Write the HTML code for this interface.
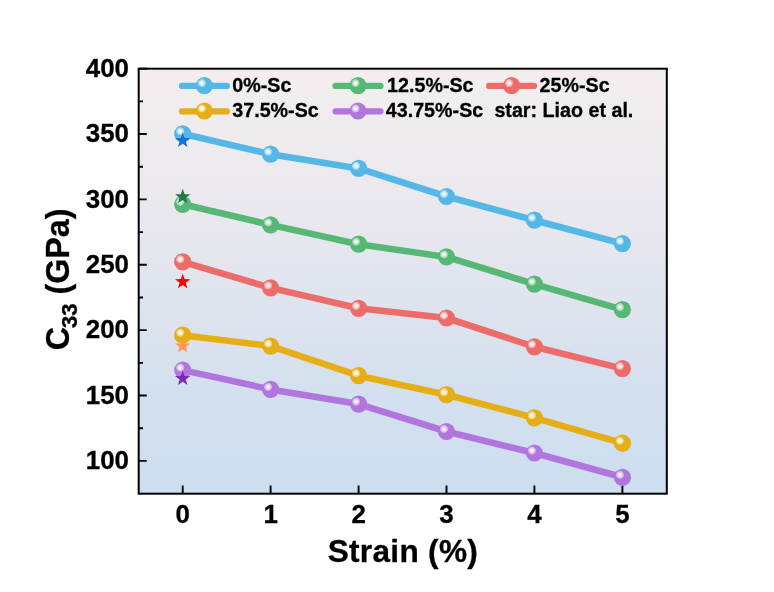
<!DOCTYPE html><html><head><meta charset="utf-8"><title>C33 vs Strain</title><style>html,body{margin:0;padding:0;background:#fff}svg{display:block}text{stroke:#000;stroke-width:0.3px}</style></head><body><svg width="774" height="592" viewBox="0 0 774 592" font-family="'Liberation Sans', Arial, sans-serif" font-weight="bold">
<defs><linearGradient id="bg" x1="0" y1="0" x2="0" y2="1"><stop offset="0" stop-color="#f4eeee"/><stop offset="0.35" stop-color="#e9e8ee"/><stop offset="0.75" stop-color="#d4e0ee"/><stop offset="1" stop-color="#cddef0"/></linearGradient>
<radialGradient id="hl" cx="0.5" cy="0.5" r="0.5"><stop offset="0" stop-color="#fff" stop-opacity="1"/><stop offset="0.25" stop-color="#fff" stop-opacity="0.9"/><stop offset="0.6" stop-color="#fff" stop-opacity="0.6"/><stop offset="0.85" stop-color="#fff" stop-opacity="0.36"/><stop offset="1" stop-color="#fff" stop-opacity="0"/></radialGradient>
</defs>
<rect width="774" height="592" fill="#ffffff"/>
<rect x="138.7" y="68.7" width="528.1" height="425.0" fill="url(#bg)"/>
<path d="M138.7 460.90h8.05M138.7 395.52h8.05M138.7 330.15h8.05M138.7 264.78h8.05M138.7 199.40h8.05M138.7 134.03h8.05M138.7 68.65h8.05M138.7 428.21h4.3M138.7 362.84h4.3M138.7 297.46h4.3M138.7 232.09h4.3M138.7 166.71h4.3M138.7 101.34h4.3M182.70 493.7v-8.3M270.60 493.7v-8.3M358.60 493.7v-8.3M446.50 493.7v-8.3M534.40 493.7v-8.3M622.40 493.7v-8.3" stroke="#000" stroke-width="1.9" fill="none"/>
<rect x="138.7" y="68.7" width="528.1" height="425.0" fill="none" stroke="#000" stroke-width="2"/>
<text x="129.0" y="469.1" font-size="25.9" text-anchor="end">100</text>
<text x="129.0" y="403.7" font-size="25.9" text-anchor="end">150</text>
<text x="129.0" y="338.3" font-size="25.9" text-anchor="end">200</text>
<text x="129.0" y="273.0" font-size="25.9" text-anchor="end">250</text>
<text x="129.0" y="207.6" font-size="25.9" text-anchor="end">300</text>
<text x="129.0" y="142.2" font-size="25.9" text-anchor="end">350</text>
<text x="129.0" y="76.9" font-size="25.9" text-anchor="end">400</text>
<text x="182.7" y="522.6" font-size="25.9" text-anchor="middle">0</text>
<text x="270.6" y="522.6" font-size="25.9" text-anchor="middle">1</text>
<text x="358.6" y="522.6" font-size="25.9" text-anchor="middle">2</text>
<text x="446.5" y="522.6" font-size="25.9" text-anchor="middle">3</text>
<text x="534.4" y="522.6" font-size="25.9" text-anchor="middle">4</text>
<text x="622.4" y="522.6" font-size="25.9" text-anchor="middle">5</text>
<text x="402.9" y="562.0" font-size="31.6" letter-spacing="0.3" text-anchor="middle">Strain (%)</text>
<text transform="translate(69.2 279.4) rotate(-90)" font-size="32.3" text-anchor="middle">C<tspan font-size="22" dy="8" dx="-1">33</tspan><tspan dy="-8"> (GPa)</tspan></text>
<polyline points="182.7,133.8 270.6,154.2 358.6,168.4 446.5,196.5 534.4,220.2 622.4,243.6" fill="none" stroke="#55b7e6" stroke-width="6.6" stroke-linejoin="round" stroke-linecap="round"/>
<circle cx="182.7" cy="133.8" r="8.6" fill="#55b7e6"/><circle cx="180.2" cy="131.3" r="4.4" fill="url(#hl)"/>
<circle cx="270.6" cy="154.2" r="8.6" fill="#55b7e6"/><circle cx="268.1" cy="151.7" r="4.4" fill="url(#hl)"/>
<circle cx="358.6" cy="168.4" r="8.6" fill="#55b7e6"/><circle cx="356.1" cy="165.9" r="4.4" fill="url(#hl)"/>
<circle cx="446.5" cy="196.5" r="8.6" fill="#55b7e6"/><circle cx="444.0" cy="194.0" r="4.4" fill="url(#hl)"/>
<circle cx="534.4" cy="220.2" r="8.6" fill="#55b7e6"/><circle cx="531.9" cy="217.7" r="4.4" fill="url(#hl)"/>
<circle cx="622.4" cy="243.6" r="8.6" fill="#55b7e6"/><circle cx="619.9" cy="241.1" r="4.4" fill="url(#hl)"/>
<polyline points="182.7,204.3 270.6,224.9 358.6,244.2 446.5,256.9 534.4,284.1 622.4,309.6" fill="none" stroke="#56b874" stroke-width="6.6" stroke-linejoin="round" stroke-linecap="round"/>
<circle cx="182.7" cy="204.3" r="8.6" fill="#56b874"/><circle cx="180.2" cy="201.8" r="4.4" fill="url(#hl)"/>
<circle cx="270.6" cy="224.9" r="8.6" fill="#56b874"/><circle cx="268.1" cy="222.4" r="4.4" fill="url(#hl)"/>
<circle cx="358.6" cy="244.2" r="8.6" fill="#56b874"/><circle cx="356.1" cy="241.7" r="4.4" fill="url(#hl)"/>
<circle cx="446.5" cy="256.9" r="8.6" fill="#56b874"/><circle cx="444.0" cy="254.4" r="4.4" fill="url(#hl)"/>
<circle cx="534.4" cy="284.1" r="8.6" fill="#56b874"/><circle cx="531.9" cy="281.6" r="4.4" fill="url(#hl)"/>
<circle cx="622.4" cy="309.6" r="8.6" fill="#56b874"/><circle cx="619.9" cy="307.1" r="4.4" fill="url(#hl)"/>
<polyline points="182.7,261.8 270.6,287.9 358.6,308.3 446.5,318.0 534.4,346.8 622.4,368.6" fill="none" stroke="#ec6c6a" stroke-width="6.6" stroke-linejoin="round" stroke-linecap="round"/>
<circle cx="182.7" cy="261.8" r="8.6" fill="#ec6c6a"/><circle cx="180.2" cy="259.3" r="4.4" fill="url(#hl)"/>
<circle cx="270.6" cy="287.9" r="8.6" fill="#ec6c6a"/><circle cx="268.1" cy="285.4" r="4.4" fill="url(#hl)"/>
<circle cx="358.6" cy="308.3" r="8.6" fill="#ec6c6a"/><circle cx="356.1" cy="305.8" r="4.4" fill="url(#hl)"/>
<circle cx="446.5" cy="318.0" r="8.6" fill="#ec6c6a"/><circle cx="444.0" cy="315.5" r="4.4" fill="url(#hl)"/>
<circle cx="534.4" cy="346.8" r="8.6" fill="#ec6c6a"/><circle cx="531.9" cy="344.3" r="4.4" fill="url(#hl)"/>
<circle cx="622.4" cy="368.6" r="8.6" fill="#ec6c6a"/><circle cx="619.9" cy="366.1" r="4.4" fill="url(#hl)"/>
<polyline points="182.7,335.2 270.6,346.1 358.6,375.7 446.5,394.7 534.4,417.9 622.4,443.2" fill="none" stroke="#e5ae16" stroke-width="6.6" stroke-linejoin="round" stroke-linecap="round"/>
<circle cx="182.7" cy="335.2" r="8.6" fill="#e5ae16"/><circle cx="180.2" cy="332.7" r="4.4" fill="url(#hl)"/>
<circle cx="270.6" cy="346.1" r="8.6" fill="#e5ae16"/><circle cx="268.1" cy="343.6" r="4.4" fill="url(#hl)"/>
<circle cx="358.6" cy="375.7" r="8.6" fill="#e5ae16"/><circle cx="356.1" cy="373.2" r="4.4" fill="url(#hl)"/>
<circle cx="446.5" cy="394.7" r="8.6" fill="#e5ae16"/><circle cx="444.0" cy="392.2" r="4.4" fill="url(#hl)"/>
<circle cx="534.4" cy="417.9" r="8.6" fill="#e5ae16"/><circle cx="531.9" cy="415.4" r="4.4" fill="url(#hl)"/>
<circle cx="622.4" cy="443.2" r="8.6" fill="#e5ae16"/><circle cx="619.9" cy="440.7" r="4.4" fill="url(#hl)"/>
<polyline points="182.7,370.1 270.6,389.4 358.6,404.1 446.5,431.5 534.4,453.0 622.4,477.3" fill="none" stroke="#b076de" stroke-width="6.6" stroke-linejoin="round" stroke-linecap="round"/>
<circle cx="182.7" cy="370.1" r="8.6" fill="#b076de"/><circle cx="180.2" cy="367.6" r="4.4" fill="url(#hl)"/>
<circle cx="270.6" cy="389.4" r="8.6" fill="#b076de"/><circle cx="268.1" cy="386.9" r="4.4" fill="url(#hl)"/>
<circle cx="358.6" cy="404.1" r="8.6" fill="#b076de"/><circle cx="356.1" cy="401.6" r="4.4" fill="url(#hl)"/>
<circle cx="446.5" cy="431.5" r="8.6" fill="#b076de"/><circle cx="444.0" cy="429.0" r="4.4" fill="url(#hl)"/>
<circle cx="534.4" cy="453.0" r="8.6" fill="#b076de"/><circle cx="531.9" cy="450.5" r="4.4" fill="url(#hl)"/>
<circle cx="622.4" cy="477.3" r="8.6" fill="#b076de"/><circle cx="619.9" cy="474.8" r="4.4" fill="url(#hl)"/>
<polygon points="182.70,132.45 184.59,137.89 190.36,138.01 185.76,141.50 187.43,147.01 182.70,143.72 177.97,147.01 179.64,141.50 175.04,138.01 180.81,137.89" fill="#1a6ee0"/>
<polygon points="182.70,188.80 184.59,194.24 190.36,194.36 185.76,197.85 187.43,203.36 182.70,200.07 177.97,203.36 179.64,197.85 175.04,194.36 180.81,194.24" fill="#1f7a45"/>
<polygon points="182.70,273.65 184.59,279.09 190.36,279.21 185.76,282.70 187.43,288.21 182.70,284.92 177.97,288.21 179.64,282.70 175.04,279.21 180.81,279.09" fill="#ff0000"/>
<polygon points="182.70,337.95 184.59,343.39 190.36,343.51 185.76,347.00 187.43,352.51 182.70,349.22 177.97,352.51 179.64,347.00 175.04,343.51 180.81,343.39" fill="#ff9650"/>
<polygon points="182.70,370.55 184.59,375.99 190.36,376.11 185.76,379.60 187.43,385.11 182.70,381.82 177.97,385.11 179.64,379.60 175.04,376.11 180.81,375.99" fill="#7a2bbf"/>
<path d="M182.0 85.9H226.8" stroke="#55b7e6" stroke-width="6.3" stroke-linecap="round"/>
<circle cx="204.4" cy="85.6" r="8.6" fill="#55b7e6"/><circle cx="201.9" cy="83.1" r="4.4" fill="url(#hl)"/>
<text x="232.3" y="91.8" font-size="19.7">0%-Sc</text>
<path d="M335.6 85.9H380.4" stroke="#56b874" stroke-width="6.3" stroke-linecap="round"/>
<circle cx="358.0" cy="85.6" r="8.6" fill="#56b874"/><circle cx="355.5" cy="83.1" r="4.4" fill="url(#hl)"/>
<text x="387.1" y="91.8" font-size="19.7">12.5%-Sc</text>
<path d="M489.2 85.9H534.0" stroke="#ec6c6a" stroke-width="6.3" stroke-linecap="round"/>
<circle cx="511.6" cy="85.6" r="8.6" fill="#ec6c6a"/><circle cx="509.1" cy="83.1" r="4.4" fill="url(#hl)"/>
<text x="539.6" y="91.8" font-size="19.7">25%-Sc</text>
<path d="M182.0 111.3H226.8" stroke="#e5ae16" stroke-width="6.3" stroke-linecap="round"/>
<circle cx="204.4" cy="111.0" r="8.6" fill="#e5ae16"/><circle cx="201.9" cy="108.5" r="4.4" fill="url(#hl)"/>
<text x="232.3" y="117.2" font-size="19.7">37.5%-Sc</text>
<path d="M335.6 111.3H380.4" stroke="#b076de" stroke-width="6.3" stroke-linecap="round"/>
<circle cx="358.0" cy="111.0" r="8.6" fill="#b076de"/><circle cx="355.5" cy="108.5" r="4.4" fill="url(#hl)"/>
<text x="385.8" y="117.2" font-size="19.7">43.75%-Sc</text>
<text x="494.4" y="116.9" font-size="19.7">star: Liao et al.</text>
</svg></body></html>
